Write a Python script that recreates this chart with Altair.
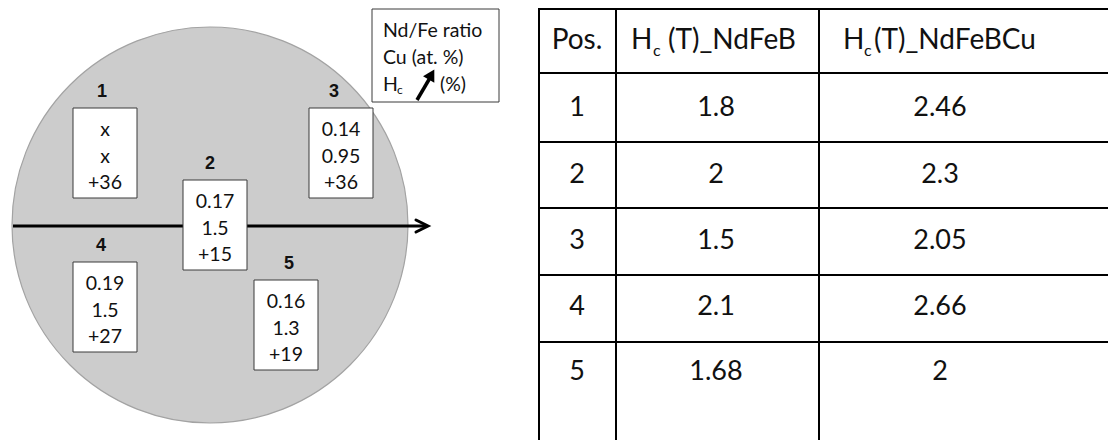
import altair as alt
import pandas as pd

# ---------------- data ----------------
positions = ["1", "2", "3", "4", "5"]
nd_fe_ratio = ["x", "0.17", "0.14", "0.19", "0.16"]
cu_at_pct = ["x", "1.5", "0.95", "1.5", "1.3"]
hc_increase = ["+36", "+15", "+36", "+27", "+19"]
hc_ndfeb = ["1.8", "2", "1.5", "2.1", "1.68"]
hc_ndfebcu = ["2.46", "2.3", "2.05", "2.66", "2"]
legend_lines = ["Nd/Fe ratio", "Cu (at. %)"]
legend_hc = ["H", "c", "(%)"]
header_pos = "Pos."
header_b = ["H", "c", "(T)_NdFeB"]
header_cu = ["H", "c", "(T)_NdFeBCu"]

# ---------------- layout (page pixels) ----------------
W, H = 1100, 432
box_left = [73, 183, 309, 73, 254]
box_top = [108, 180, 108, 262, 280]
box_w, box_h = 64, 90
label_x = [102, 210, 334, 101, 289]
line_dy = [22, 49, 75]
circle_cx, circle_cy, circle_r = 210, 225, 198
axis_y = 226
col_lines = [539, 616, 819]
row_lines = [9, 73, 142, 208, 275, 342]
row_text_y = [108, 175, 241, 307, 372]
col_center = [577, 716, 940]

FONT_BOX = "Lato"
FONT_TAB = "Lato"

X = lambda f="x": alt.X(f"{f}:Q", scale=alt.Scale(domain=[8, 8 + W], nice=False, zero=False), axis=None)
Y = lambda f="y": alt.Y(f"{f}:Q", scale=alt.Scale(domain=[8, 8 + H], nice=False, zero=False, reverse=True), axis=None)


def text_layer(df, **kw):
    return alt.Chart(df).mark_text(**kw).encode(x=X(), y=Y(), text="t:N")


layers = []

# wafer disc
disc = pd.DataFrame({"x": [circle_cx], "y": [circle_cy]})
layers.append(alt.Chart(disc).mark_point(shape="circle", filled=True, size=(2 * circle_r) ** 2,
                                         fill="#cccccc", stroke="#a3a3a3", strokeWidth=1.2,
                                         opacity=1).encode(x=X(), y=Y()))

# horizontal axis arrow
axis_df = pd.DataFrame({"x": [circle_cx - circle_r + 1], "x2": [426], "y": [axis_y]})
layers.append(alt.Chart(axis_df).mark_rule(color="black", strokeWidth=3).encode(
    x=X(), x2="x2:Q", y=Y()))
head_df = pd.DataFrame({"x": [428], "y": [axis_y]})
layers.append(alt.Chart(head_df).mark_point(shape="M-1,-0.5L0,0L-1,0.5", filled=False, size=576,
                                            stroke="black", strokeWidth=3, opacity=1,
                                            strokeJoin="miter", strokeCap="round").encode(x=X(), y=Y()))

# position boxes
boxes = pd.DataFrame({
    "x": box_left, "x2": [v + box_w for v in box_left],
    "y": box_top, "y2": [v + box_h for v in box_top],
})
layers.append(alt.Chart(boxes).mark_rect(fill="white", stroke="#3a3a3a", strokeWidth=1).encode(
    x=X(), x2="x2:Q", y=Y(), y2="y2:Q"))

# box labels
lab = pd.DataFrame({"x": label_x, "y": [t - 16 for t in box_top], "t": positions})
layers.append(text_layer(lab, font="Liberation Sans", fontSize=18, fontWeight="bold",
                         baseline="middle", align="center", color="#111111"))

# box contents
rows = []
for i in range(5):
    cx = box_left[i] + box_w / 2
    for dy, vals in zip(line_dy, [nd_fe_ratio, cu_at_pct, hc_increase]):
        rows.append({"x": cx, "y": box_top[i] + dy, "t": vals[i]})
layers.append(text_layer(pd.DataFrame(rows), font=FONT_BOX, fontSize=19.5, baseline="middle",
                         align="center", color="#111111"))

# legend box
leg_box = pd.DataFrame({"x": [372], "x2": [499], "y": [9], "y2": [102]})
layers.append(alt.Chart(leg_box).mark_rect(fill="white", stroke="#3a3a3a", strokeWidth=1).encode(
    x=X(), x2="x2:Q", y=Y(), y2="y2:Q"))
leg_txt = pd.DataFrame({"x": [383, 383, 383, 440], "y": [31, 58, 85, 85],
                        "t": legend_lines + [legend_hc[0], legend_hc[2]]})
layers.append(text_layer(leg_txt, font=FONT_BOX, fontSize=19.5, baseline="middle", align="left",
                         color="#111111"))
leg_sub = pd.DataFrame({"x": [397], "y": [90], "t": [legend_hc[1]]})
layers.append(text_layer(leg_sub, font=FONT_BOX, fontSize=12, baseline="middle", align="left",
                         color="#111111"))
arrow_df = pd.DataFrame({"x": [417], "y": [100], "x2": [430.5], "y2": [77]})
layers.append(alt.Chart(arrow_df).mark_rule(color="black", strokeWidth=3.5).encode(
    x=X(), y=Y(), x2="x2:Q", y2="y2:Q"))
arrow_head = pd.DataFrame({"x": [431.5], "y": [74.5]})
layers.append(alt.Chart(arrow_head).mark_point(shape="triangle-up", filled=True, size=170, angle=30,
                                               fill="black", opacity=1, strokeWidth=0).encode(x=X(), y=Y()))

# table grid
vl = pd.DataFrame({"x": col_lines, "y": [row_lines[0] - 1] * 3, "y2": [448] * 3})
layers.append(alt.Chart(vl).mark_rule(color="black", strokeWidth=2).encode(x=X(), y=Y(), y2="y2:Q"))
hl = pd.DataFrame({"y": row_lines, "x": [col_lines[0] - 1] * 6, "x2": [1120] * 6})
layers.append(alt.Chart(hl).mark_rule(color="black", strokeWidth=2).encode(x=X(), x2="x2:Q", y=Y()))

# table header
hdr_c = pd.DataFrame({"x": [577], "y": [41], "t": [header_pos]})
layers.append(text_layer(hdr_c, font=FONT_TAB, fontSize=28, baseline="middle", align="center",
                         color="#111111"))
hdr = pd.DataFrame({"x": [631, 668, 843, 874], "y": [41] * 4,
                    "t": [header_b[0], header_b[2], header_cu[0], header_cu[2]]})
layers.append(text_layer(hdr, font=FONT_TAB, fontSize=28, baseline="middle", align="left",
                         color="#111111"))
hdr_sub = pd.DataFrame({"x": [653, 864], "y": [51, 51], "t": [header_b[1], header_cu[1]]})
layers.append(text_layer(hdr_sub, font=FONT_TAB, fontSize=16, baseline="middle", align="left",
                         color="#111111"))

# table body
body = []
for i in range(5):
    for c, vals in zip(col_center, [positions, hc_ndfeb, hc_ndfebcu]):
        body.append({"x": c, "y": row_text_y[i], "t": vals[i]})
layers.append(text_layer(pd.DataFrame(body), font=FONT_TAB, fontSize=27, baseline="middle",
                         align="center", color="#111111"))

chart = alt.layer(*layers).properties(width=W, height=H, padding=0,
                                       autosize=alt.AutoSizeParams(type="none")).configure_view(stroke=None)

chart.save("out.html", embed_options={"renderer": "svg", "actions": False})
